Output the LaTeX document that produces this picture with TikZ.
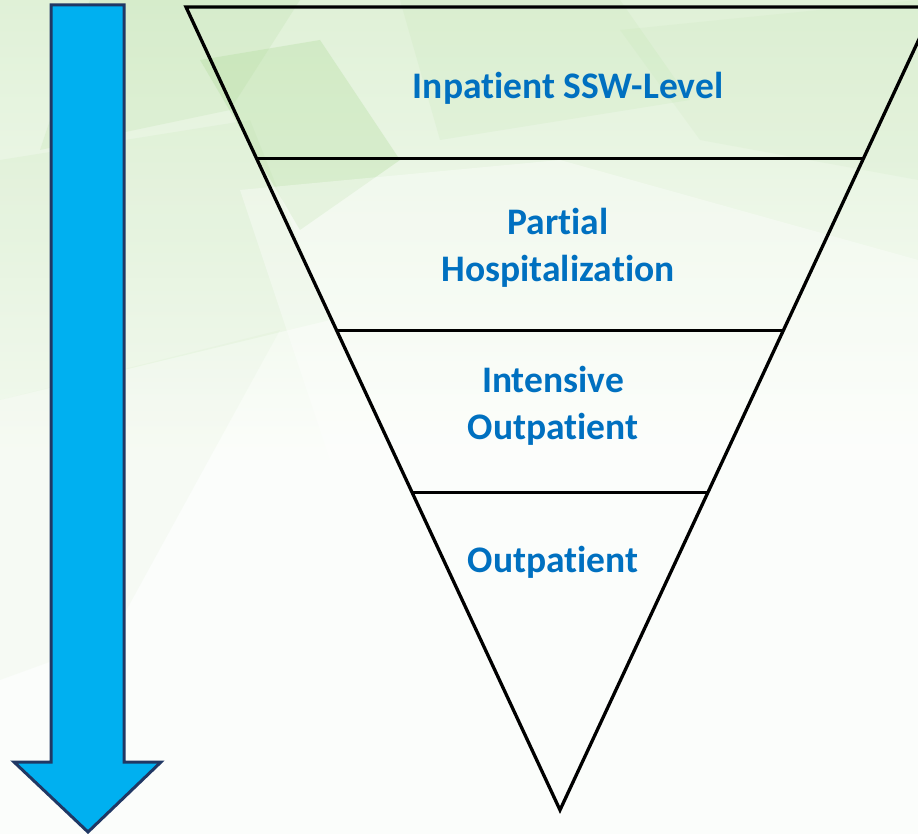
\documentclass[tikz,border=0pt]{standalone}
\usepackage{fontspec}
\setmainfont{Carlito}[Ligatures=NoCommon]
\usetikzlibrary{calc}

\definecolor{levelblue}{HTML}{0070C0}
\definecolor{arrowfill}{HTML}{00B0F0}
\definecolor{arrowline}{HTML}{203864}
\definecolor{leaf}{HTML}{A8D890}

\tikzset{
	level/.style={text=levelblue, font=\fontsize{37.5}{47}\selectfont\bfseries, align=center},
	facet/.style={fill=leaf, draw=none},
}

\begin{document}
	\begin{tikzpicture}[x=1pt, y=-1pt]
		\useasboundingbox (0,0) rectangle (918,834);
		\clip (0,0) rectangle (918,834);
		
		% background
		\shade[top color=leaf!36!white, bottom color=white!96!leaf] (0,0) rectangle (918,460);
		\fill[white!96!leaf] (0,460) rectangle (918,834);
		\fill[facet, opacity=.28] (200,60) -- (320,40) -- (400,160) -- (300,230) -- cycle;
		\fill[facet, opacity=.16] (90,0) -- (300,0) -- (230,110) -- (40,150) -- cycle;
		\fill[facet, opacity=.1] (0,160) -- (250,120) -- (330,320) -- (0,400) -- cycle;
		\fill[facet, opacity=.1] (400,0) -- (620,0) -- (690,100) -- (440,140) -- cycle;
		\fill[facet, opacity=.08] (620,30) -- (918,0) -- (918,180) -- (700,140) -- cycle;
		\fill[facet, opacity=.06] (0,400) -- (280,330) -- (110,640) -- (0,680) -- cycle;
		\fill[white, opacity=.35] (240,190) -- (560,160) -- (918,260) -- (918,460) -- (330,460) -- cycle;
		
		% arrow on the left
		\draw[arrowline, fill=arrowfill, line width=3pt, line join=miter]
			(51,5) -- (124,5) -- (124,762) -- (161,762) -- (88,832) -- (14,762) -- (51,762) -- cycle;
		
		% inverted triangle
		\coordinate (tl) at (186,7);
		\coordinate (tr) at (934,7);
		\coordinate (apex) at (560,810);
		\draw[line width=3.3pt, line join=miter] (tl) -- (tr) -- (apex) -- cycle;
		
		\foreach \t [count=\i] in {0.1885,0.4030,0.6050}{
			\coordinate (l\i) at ($(tl)!\t!(apex)$);
			\coordinate (r\i) at ($(tr)!\t!(apex)$);
			\draw[line width=3.3pt] (l\i) -- (r\i);
		}
		
		\node[level] (inpat) at (568,88) {Inpatient SSW-Level};
		\node[level] (partial) at (558,248) {Partial\\Hospitalization};
		\node[level] (intens) at (553,406) {Intensive\\Outpatient};
		\node[level] (outpat) at (553,562) {Outpatient};
	\end{tikzpicture}
\end{document}
